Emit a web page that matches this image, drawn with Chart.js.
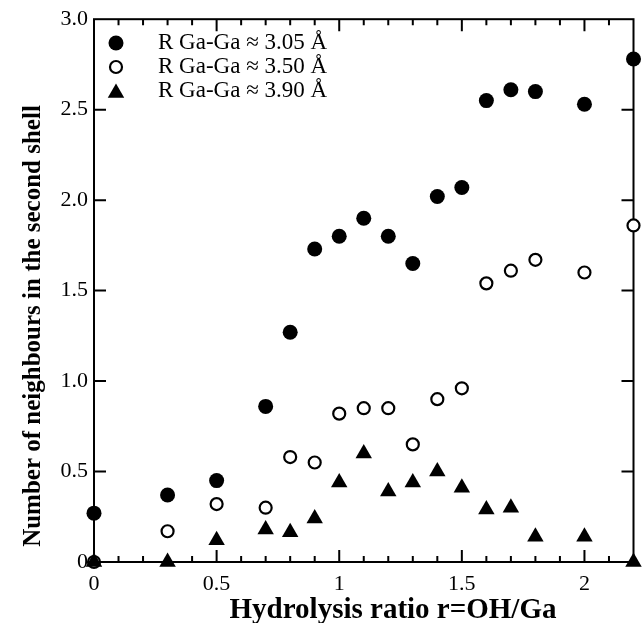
<!DOCTYPE html>
<html>
<head>
<meta charset="utf-8">
<script src="https://cdn.jsdelivr.net/npm/chart.js@4/dist/chart.umd.min.js"></script>
<style>
html,body{margin:0;padding:0;background:#fff;}
#wrap{width:643px;height:623px;}
</style>
</head>
<body>
<div id="wrap"><canvas id="c" width="643" height="623"></canvas></div>
<script>
// ---- data ----
const ratios = [0, 0.3, 0.5, 0.7, 0.8, 0.9, 1.0, 1.1, 1.2, 1.3, 1.4, 1.5, 1.6, 1.7, 1.8, 2.0, 2.2];
const n305 = [0.27, 0.37, 0.45, 0.86, 1.27, 1.73, 1.80, 1.90, 1.80, 1.65, 2.02, 2.07, 2.55, 2.61, 2.60, 2.53, 2.78];
const n350 = [0.00, 0.17, 0.32, 0.30, 0.58, 0.55, 0.82, 0.85, 0.85, 0.65, 0.90, 0.96, 1.54, 1.61, 1.67, 1.60, 1.86];
const n390 = [0.00, 0.00, 0.12, 0.18, 0.165, 0.24, 0.44, 0.60, 0.39, 0.44, 0.50, 0.41, 0.29, 0.30, 0.14, 0.14, 0.00];
const seriesLabels = ['R Ga-Ga \u2248 3.05 \u00C5', 'R Ga-Ga \u2248 3.50 \u00C5', 'R Ga-Ga \u2248 3.90 \u00C5'];
const xTitle = 'Hydrolysis ratio r=OH/Ga';
const yTitle = 'Number of neighbours in the second shell';
const xTickValues = [0, 0.5, 1, 1.5, 2];
const yTickValues = [0, 0.5, 1.0, 1.5, 2.0, 2.5, 3.0];

const toPts = arr => arr.map((v, i) => ({x: ratios[i], y: v}));
const SERIF = '"Liberation Serif", "DejaVu Serif", serif';

const framePlugin = {
  id: 'frame',
  beforeDatasetsDraw(chart) {
    const {ctx, chartArea: a, scales: {x, y}} = chart;
    ctx.save();
    ctx.strokeStyle = '#000';
    ctx.lineWidth = 2;
    ctx.strokeRect(a.left, a.top, a.right - a.left, a.bottom - a.top);
    ctx.beginPath();
    for (let i = 1; i < 22; i++) {
      const px = x.getPixelForValue(i / 10);
      const len = (i % 5 === 0) ? 12 : 6;
      ctx.moveTo(px, a.bottom); ctx.lineTo(px, a.bottom - len);
      ctx.moveTo(px, a.top); ctx.lineTo(px, a.top + len);
    }
    yTickValues.forEach(v => {
      const py = y.getPixelForValue(v);
      if (v > 0 && v < 3) {
        ctx.moveTo(a.left, py); ctx.lineTo(a.left + 12, py);
        ctx.moveTo(a.right, py); ctx.lineTo(a.right - 12, py);
      }
    });
    ctx.stroke();
    ctx.restore();
  },
  afterDraw(chart) {
    const {ctx} = chart;
    ctx.save();
    ctx.fillStyle = '#000';
    ctx.textAlign = 'center';
    ctx.textBaseline = 'alphabetic';
    ctx.font = 'bold 29px ' + SERIF;
    ctx.fillText(xTitle, 393, 618);
    ctx.save();
    ctx.translate(40, 326);
    ctx.rotate(-Math.PI / 2);
    ctx.font = 'bold 25px ' + SERIF;
    ctx.fillText(yTitle, 0, 0);
    ctx.restore();
    // legend
    const rows = [43, 67, 91];
    chart.data.datasets.forEach((ds, i) => {
      const opts = chart.getDatasetMeta(i).data[0].options;
      ctx.fillStyle = opts.backgroundColor;
      ctx.strokeStyle = opts.borderColor;
      ctx.lineWidth = opts.borderWidth;
      Chart.helpers.drawPoint(ctx, {
        pointStyle: opts.pointStyle, radius: opts.radius, rotation: 0,
        borderWidth: opts.borderWidth
      }, 116, rows[i] + (opts.pointStyle === 'triangle' ? 2 : 0));
      ctx.fillStyle = '#000';
      ctx.font = '23px ' + SERIF;
      ctx.textAlign = 'left';
      ctx.textBaseline = 'middle';
      ctx.fillText(ds.label, 158, rows[i]);
    });
    ctx.restore();
  }
};

new Chart(document.getElementById('c'), {
  type: 'scatter',
  data: {
    datasets: [
      {label: seriesLabels[0], data: toPts(n305), pointStyle: 'circle', pointRadius: 7.5,
       backgroundColor: '#000', borderColor: '#000', borderWidth: 0, clip: false, order: 1},
      {label: seriesLabels[1], data: toPts(n350), pointStyle: 'circle', pointRadius: 6,
       backgroundColor: '#fff', borderColor: '#000', borderWidth: 2.2, clip: false, order: 2},
      {label: seriesLabels[2], data: toPts(n390), pointStyle: 'triangle', pointRadius: 9.5,
       backgroundColor: '#000', borderColor: '#000', borderWidth: 0, clip: false, order: 0}
    ]
  },
  options: {
    responsive: false,
    animation: false,
    events: [],
    layout: {padding: {left: 0, right: 4, top: 18, bottom: 0}},
    plugins: {legend: {display: false}, tooltip: {enabled: false}},
    scales: {
      x: {
        type: 'linear', min: 0, max: 2.2,
        grid: {display: false, drawTicks: false, tickLength: 0},
        border: {display: false},
        afterBuildTicks: s => { s.ticks = xTickValues.map(v => ({value: v})); },
        ticks: {font: {family: SERIF, size: 22}, color: '#000', padding: 9, maxRotation: 0,
                callback: v => String(v)},
        afterFit: s => { s.height = 61; }
      },
      y: {
        type: 'linear', min: 0, max: 3,
        grid: {display: false, drawTicks: false, tickLength: 0},
        border: {display: false},
        afterBuildTicks: s => { s.ticks = yTickValues.map(v => ({value: v})); },
        ticks: {font: {family: SERIF, size: 22}, color: '#000', padding: 6,
                callback: v => v === 0 ? '0' : v.toFixed(1)},
        afterFit: s => { s.width = 94; }
      }
    }
  },
  plugins: [framePlugin]
});
</script>
</body>
</html>
